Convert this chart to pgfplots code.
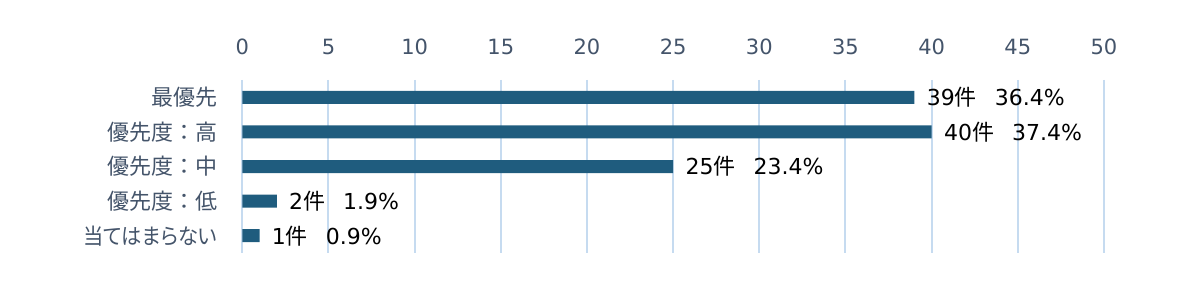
\documentclass[border=0pt]{standalone}
\usepackage{fontspec}
\usepackage{graphicx}
\setmainfont{DejaVu Sans}
\newfontfamily\jp{Noto Sans CJK JP}
\newfontfamily\jpp[RawFeature=+palt]{Noto Sans CJK JP}
\usepackage{pgfplots}
\pgfplotsset{compat=1.18}
\definecolor{barc}{HTML}{1F5C7E}
\definecolor{gridc}{HTML}{C6DBF0}
\definecolor{labc}{HTML}{44546A}
\begin{document}
\begin{tikzpicture}
\path[use as bounding box] (0,0) rectangle (600pt,145pt);
\begin{axis}[
  at={(121.15pt,18.5pt)}, anchor=south west,
  scale only axis, width=430.85pt, height=86.5pt,
  xbar, bar width=6.5pt,
  xmin=0, xmax=50, ymin=0.5, ymax=5.5, y dir=reverse,
  xtick={0,5,...,50}, ytick={1,2,3,4,5},
  yticklabels={{最優先},{優先度：高},{優先度：中},{優先度：低},{\jpp\scalebox{0.92}[1]{当てはまらない}}},
  xticklabel pos=right,
  axis line style={draw=none},
  major tick length=0pt, tick style={draw=none},
  xmajorgrids, major grid style={gridc, line width=1pt},
  tick label style={font=\fontsize{10.5}{12}\selectfont, text=labc, inner sep=0pt},
  xticklabel style={anchor=base, yshift=12.5pt},
  yticklabel style={anchor=east, xshift=-12.4pt, font=\jp\fontsize{11}{13}\selectfont},
  /pgf/number format/assume math mode=true,
  point meta=explicit symbolic,
  nodes near coords,
  nodes near coords style={anchor=west, inner sep=0pt, xshift=6pt, font=\fontsize{11}{13}\selectfont, text=black},
]
\addplot[draw=none, fill=barc] coordinates {
  (39,1) [39{\jp 件}\hspace{9pt}36.4\%]
  (40,2) [40{\jp 件}\hspace{9pt}37.4\%]
  (25,3) [25{\jp 件}\hspace{9pt}23.4\%]
  (2,4) [2{\jp 件}\hspace{9pt}1.9\%]
  (1,5) [1{\jp 件}\hspace{9pt}0.9\%]
};
\end{axis}
\end{tikzpicture}
\end{document}
